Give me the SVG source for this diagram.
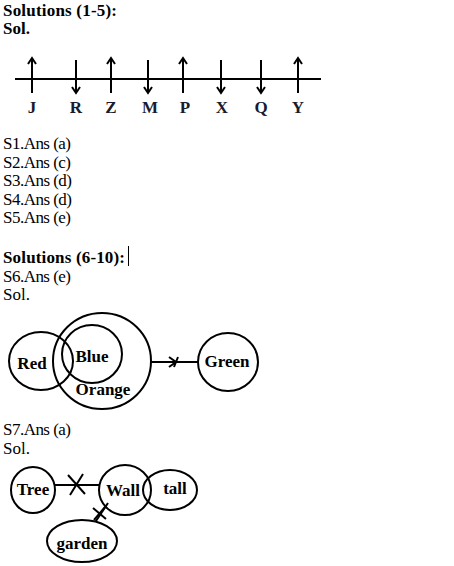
<svg xmlns="http://www.w3.org/2000/svg" width="454" height="566" viewBox="0 0 454 566">
<style>
.t{font-family:"Liberation Serif","Times New Roman",serif;font-size:17px;fill:#000}
.h{font-family:"Liberation Serif","Times New Roman",serif;font-size:17px;font-weight:bold;fill:#000}
.l{font-family:"Liberation Serif","Times New Roman",serif;font-size:17px;font-weight:bold;fill:#000;text-anchor:middle}
.n{font-family:"Liberation Serif","Times New Roman",serif;font-size:17px;font-weight:bold;fill:#1a1a2e;text-anchor:middle}
.s{fill:none;stroke:#000;stroke-width:2}
.c{fill:#fff;stroke:#000;stroke-width:2}
</style>
<rect width="454" height="566" fill="#fff"/>
<g id="text1">
<text class="h" x="3" y="16" textLength="114">Solutions (1-5):</text>
<text class="h" x="3" y="34">Sol.</text>
</g>
<g id="numberline">
<line class="s" x1="15" y1="79" x2="321" y2="79"/>
<g class="s">
<path d="M32,93 V58 M28,64 L32,58 L36,64"/>
<path d="M76,60 V93 M72,87 L76,93 L80,87"/>
<path d="M111,93 V58 M107,64 L111,58 L115,64"/>
<path d="M148,60 V93 M144,87 L148,93 L152,87"/>
<path d="M183,93 V58 M179,64 L183,58 L187,64"/>
<path d="M221,60 V93 M217,87 L221,93 L225,87"/>
<path d="M261,60 V93 M257,87 L261,93 L265,87"/>
<path d="M298,93 V58 M294,64 L298,58 L302,64"/>
</g>
<text class="n" x="32" y="113">J</text>
<text class="n" x="76" y="113">R</text>
<text class="n" x="111" y="113">Z</text>
<text class="n" x="150" y="113">M</text>
<text class="n" x="185" y="113">P</text>
<text class="n" x="222" y="113">X</text>
<text class="n" x="261" y="113">Q</text>
<text class="n" x="298" y="113">Y</text>
</g>
<g id="text2">
<text class="t" x="3" y="149" textLength="68">S1.Ans (a)</text>
<text class="t" x="3" y="168" textLength="68">S2.Ans (c)</text>
<text class="t" x="3" y="186" textLength="69">S3.Ans (d)</text>
<text class="t" x="3" y="205" textLength="69">S4.Ans (d)</text>
<text class="t" x="3" y="223" textLength="68">S5.Ans (e)</text>
<text class="h" x="3" y="263" textLength="122">Solutions (6-10):</text>
<line x1="128.5" y1="246" x2="128.5" y2="266" stroke="#000" stroke-width="1"/>
<text class="t" x="3" y="282" textLength="68">S6.Ans (e)</text>
<text class="t" x="3" y="300">Sol.</text>
</g>
<g id="connectors">
<line class="s" x1="151" y1="362" x2="198" y2="362"/>
<path class="s" d="M169,357 L176,362 L169,367 M178,357 L174,367"/>
<line class="s" x1="55" y1="485" x2="100" y2="485"/>
<path class="s" d="M68,475 L85,494 M83,474 L70,495" stroke-width="2.5"/>
<line class="s" x1="108" y1="503" x2="94" y2="524"/>
<path class="s" d="M93,508 L106,519 M105,507 L94,520"/>
</g>
<g id="red">
<ellipse cx="41" cy="361" rx="32" ry="29" class="s"/>
<text class="l" x="32" y="369">Red</text>
</g>
<g id="orange">
<ellipse cx="102" cy="361" rx="49" ry="48" class="s"/>
<text class="l" x="103" y="395">Orange</text>
</g>
<g id="blue">
<ellipse cx="92" cy="354" rx="30" ry="29" class="s"/>
<text class="l" x="92" y="362">Blue</text>
</g>
<g id="green">
<ellipse cx="228" cy="362" rx="30" ry="29" class="c"/>
<text class="l" x="227" y="367">Green</text>
</g>
<g id="text3">
<text class="t" x="3" y="435" textLength="68">S7.Ans (a)</text>
<text class="t" x="3" y="454">Sol.</text>
</g>
<g id="tree">
<ellipse cx="33" cy="490" rx="22" ry="23" class="c"/>
<text class="l" x="33" y="495">Tree</text>
</g>
<g id="wall">
<ellipse cx="125" cy="490" rx="26" ry="25" class="s"/>
<text class="l" x="123" y="496">Wall</text>
</g>
<g id="tall">
<ellipse cx="170" cy="490" rx="27" ry="20" class="s"/>
<text class="l" x="175" y="494">tall</text>
</g>
<g id="garden">
<ellipse cx="82" cy="541" rx="35" ry="21" class="c"/>
<text class="l" x="82" y="549">garden</text>
</g>
</svg>
